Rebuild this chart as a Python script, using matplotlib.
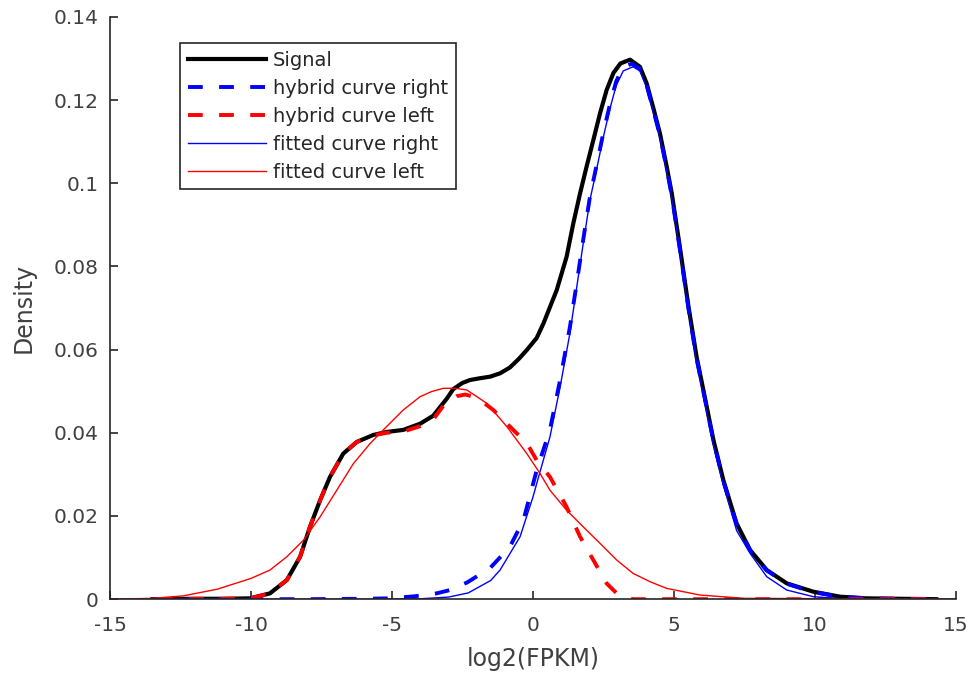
import matplotlib.pyplot as plt
import numpy as np

plt.rcParams['font.family'] = ['DejaVu Sans']

# Signal (black)
x_sig = [-13.5, -12, -11, -10.04, -9.33, -8.73, -8.26, -7.91, -7.55, -7.2, -6.73, -6.25, -5.66,
         -5.19, -4.6, -4.0, -3.54, -3.06, -2.83, -2.5, -2.23, -1.9, -1.52, -1.17, -0.82, -0.5,
         -0.22, 0.13, 0.37, 0.84, 1.19, 1.43, 1.67, 1.90, 2.14, 2.38, 2.61, 2.85, 3.1, 3.44,
         3.79, 4.03, 4.27, 4.50, 4.74, 4.92, 5.2, 5.51, 5.80, 6.04, 6.40, 6.75, 7.22, 7.70,
         8.29, 9.0, 9.94, 10.89, 11.83, 13, 14.3]
y_sig = [0, 0.0001, 0.0001, 0.0002, 0.0014, 0.0046, 0.0102, 0.0174, 0.0238, 0.0294, 0.035,
         0.0378, 0.0395, 0.0402, 0.0407, 0.0422, 0.0441, 0.0482, 0.0505, 0.052, 0.0527, 0.0531,
         0.0535, 0.0543, 0.0557, 0.0578, 0.0599, 0.0628, 0.0663, 0.0743, 0.0823, 0.0904,
         0.0976, 0.104, 0.1104, 0.1169, 0.1224, 0.1265, 0.1288, 0.1297, 0.128, 0.124, 0.118,
         0.112, 0.104, 0.0976, 0.085, 0.0705, 0.0583, 0.0503, 0.0382, 0.0286, 0.0182, 0.0118,
         0.007, 0.0038, 0.0018, 0.0006, 0.0002, 0.0001, 0]

# hybrid curve right (blue dashed)
x_hr = [-13.4, -8, -6, -5.07, -4.2, -3.42, -2.94, -2.34, -1.52, -0.82, -0.34, 0.13, 0.60, 0.96,
        1.31, 1.55, 1.78, 2.02, 2.26, 2.49, 2.73, 2.95, 3.2, 3.5, 3.79, 4.03, 4.27, 4.50, 4.74,
        4.92, 5.2, 5.51, 5.80, 6.04, 6.40, 6.75, 7.22, 7.70, 8.29, 9.0, 9.94, 10.89, 11.83, 13,
        14.3]
y_hr = [0, 0, 0.0001, 0.0002, 0.0007, 0.0014, 0.0022, 0.004, 0.0075, 0.0126, 0.019, 0.031,
        0.0407, 0.0527, 0.0655, 0.076, 0.0864, 0.0968, 0.1045, 0.112, 0.119, 0.1245, 0.128,
        0.1287, 0.1275, 0.1235, 0.1175, 0.1115, 0.1035, 0.097, 0.0845, 0.070, 0.0578, 0.050,
        0.038, 0.0284, 0.018, 0.0117, 0.0069, 0.0037, 0.0017, 0.0006, 0.0002, 0.0001, 0]

# hybrid curve left (red dashed)
x_hl = [-13.3, -12, -11, -10.04, -9.33, -8.73, -8.26, -7.91, -7.55, -7.2, -6.73, -6.25, -5.66,
        -5.19, -4.6, -4.0, -3.54, -3.18, -2.71, -2.4, -2.12, -1.76, -1.41, -0.82, -0.22, 0.13,
        0.60, 1.19, 1.67, 2.14, 2.61, 3.0, 3.20, 3.55, 14.3]
y_hl = [0, 0.0001, 0.0001, 0.0002, 0.0014, 0.0046, 0.0102, 0.0174, 0.0238, 0.0294, 0.035,
        0.0378, 0.0394, 0.0400, 0.0403, 0.0416, 0.0432, 0.0465, 0.0488, 0.0492, 0.0487, 0.0473,
        0.0455, 0.0415, 0.0375, 0.0334, 0.0294, 0.0222, 0.015, 0.0094, 0.0038, 0.0012, 0.0006,
        0, 0]

# fitted curve right (blue thin)
x_fr = [-15, -6, -4, -3, -2.3, -1.5, -1.17, -0.46, 0.0, 0.18, 0.60, 0.96, 1.31, 1.55, 1.78,
        2.02, 2.26, 2.49, 2.73, 2.95, 3.2, 3.55, 3.79, 4.03, 4.27, 4.50, 4.74, 4.92, 5.2, 5.51,
        5.80, 6.04, 6.40, 6.75, 7.22, 7.70, 8.29, 9.0, 9.94, 11, 15]
y_fr = [0, 0, 0.0001, 0.0005, 0.0015, 0.0045, 0.007, 0.015, 0.0246, 0.029, 0.039, 0.051, 0.064,
        0.075, 0.0855, 0.096, 0.1035, 0.111, 0.118, 0.1235, 0.127, 0.128, 0.127, 0.123, 0.117,
        0.111, 0.103, 0.0965, 0.084, 0.0695, 0.057, 0.049, 0.037, 0.0275, 0.0165, 0.011,
        0.0054, 0.0022, 0.0006, 0.0001, 0]

# fitted curve left (red thin)
x_fl = [-15, -13.5, -12.4, -11.2, -10, -9.33, -8.73, -8.14, -7.55, -6.96, -6.37, -5.78, -5.31,
        -4.6, -4.0, -3.6, -3.18, -2.75, -2.35, -1.64, -0.93, -0.22, 0.25, 0.60, 1.19, 1.78,
        2.38, 2.97, 3.55, 4.15, 4.74, 5.92, 7.5, 15]
y_fl = [0, 0.0002, 0.0008, 0.0024, 0.005, 0.007, 0.0102, 0.0142, 0.0198, 0.0262, 0.0326, 0.0374,
        0.0407, 0.0455, 0.0487, 0.0499, 0.0507, 0.0507, 0.0503, 0.0471, 0.0415, 0.035, 0.0302,
        0.0262, 0.0214, 0.0174, 0.0134, 0.0094, 0.0062, 0.0042, 0.0026, 0.001, 0.0002, 0]

grey = '#262626'
tgrey = '#404040'

fig = plt.figure(figsize=(9.74, 6.74), dpi=100)
ax = fig.add_axes([0.113, 0.111, 0.8685, 0.864])

ax.plot(x_sig, y_sig, color='black', lw=3, label='Signal')
ax.plot(x_hr, y_hr, color='blue', lw=2.8, dashes=(3.8, 4.2), label='hybrid curve right')
ax.plot(x_hl, y_hl, color='red', lw=2.8, dashes=(3.8, 4.2), label='hybrid curve left')
ax.plot(x_fr, y_fr, color='blue', lw=1, label='fitted curve right')
ax.plot(x_fl, y_fl, color='red', lw=1, label='fitted curve left')

ax.set_xlim(-15, 15)
ax.set_ylim(0, 0.14)
ax.set_xticks([-15, -10, -5, 0, 5, 10, 15])
ax.set_xticklabels(['-15', '-10', '-5', '0', '5', '10', '15'])
ax.set_yticks([0, 0.02, 0.04, 0.06, 0.08, 0.1, 0.12, 0.14])
ax.set_yticklabels(['0', '0.02', '0.04', '0.06', '0.08', '0.1', '0.12', '0.14'])

for s in ['top', 'right']:
    ax.spines[s].set_visible(False)
for s in ['left', 'bottom']:
    ax.spines[s].set_color(grey)
    ax.spines[s].set_linewidth(1.2)
ax.tick_params(direction='in', length=6, width=1.2, color=grey, labelcolor=tgrey,
               labelsize=14.5)
ax.tick_params(axis='x', pad=12)
ax.tick_params(axis='y', pad=8)

ax.set_xlabel('log2(FPKM)', fontsize=17, color=tgrey, labelpad=9)
ax.set_ylabel('Density', fontsize=17, color=tgrey, labelpad=13)

leg = ax.legend(loc='upper left', bbox_to_anchor=(0.083, 0.955), borderaxespad=0,
                fontsize=14, handlelength=4.0, handletextpad=0.36, labelspacing=0.46,
                fancybox=False, framealpha=1, edgecolor=grey, borderpad=0.4)
leg.get_frame().set_linewidth(1.2)
for t in leg.get_texts():
    t.set_color(grey)

fig.savefig('out.png', dpi=100)
